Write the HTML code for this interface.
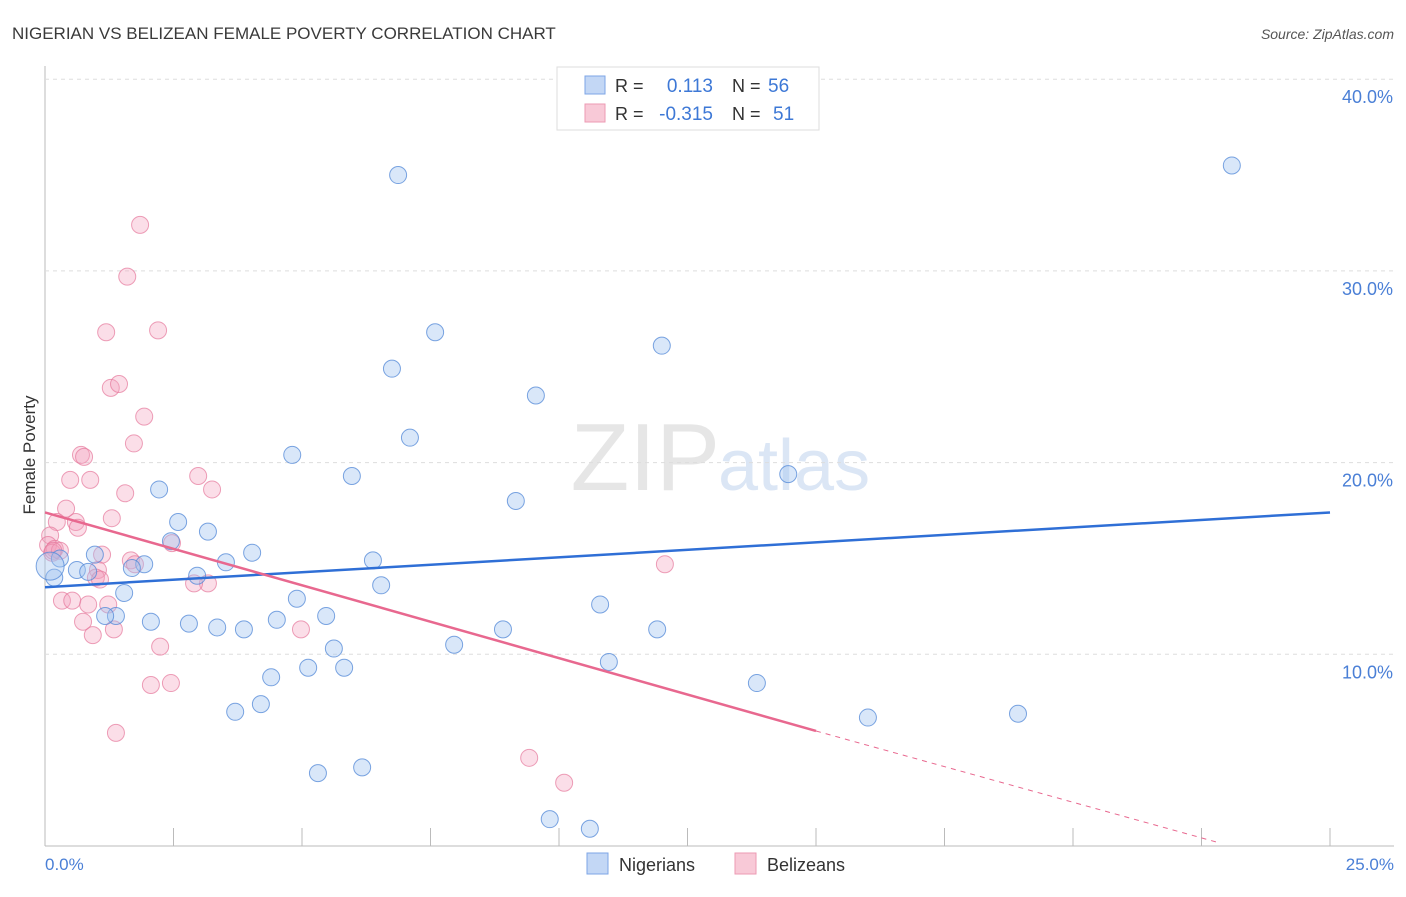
<!DOCTYPE html>
<html><head><meta charset="utf-8"><style>
body{margin:0;background:#fff;font-family:"Liberation Sans",sans-serif}
svg text{font-family:"Liberation Sans",sans-serif}
</style></head><body>
<svg id="c" width="1406" height="892" xmlns="http://www.w3.org/2000/svg">
<text x="12" y="39" font-size="17" fill="#3a3a3a">NIGERIAN VS BELIZEAN FEMALE POVERTY CORRELATION CHART</text>
<text x="1394" y="39" font-size="14" fill="#555" font-style="italic" text-anchor="end">Source: ZipAtlas.com</text>
<text x="720" y="490" font-size="96" fill="#e6e6e6" text-anchor="end" font-family="Liberation Serif">ZIP</text>
<text x="718" y="490" font-size="72" fill="#dbe6f5">atlas</text>
<g id="grid"></g>
<g id="pts"></g>
<g id="lines"></g>
<text x="35" y="455" font-size="17" fill="#333" transform="rotate(-90 35 455)" text-anchor="middle">Female Poverty</text>
<text x="45" y="870" font-size="17" fill="#4a7fd6">0.0%</text>
<text x="1394" y="870" font-size="17" fill="#4a7fd6" text-anchor="end">25.0%</text>
<g>
<rect x="557" y="67" width="262" height="63" fill="#fff" stroke="#ddd"/>
<rect x="585" y="76" width="20" height="18" fill="#c3d7f5" stroke="#7ea5e6"/>
<rect x="585" y="104" width="20" height="18" fill="#f8c9d7" stroke="#ec9ab3"/>
<text x="615" y="92" font-size="18" fill="#333">R = </text><text x="713" y="92" font-size="19" fill="#3d78d6" text-anchor="end">0.113</text>
<text x="732" y="92" font-size="18" fill="#333">N = </text><text x="768" y="92" font-size="19" fill="#3d78d6">56</text>
<text x="615" y="120" font-size="18" fill="#333">R = </text><text x="713" y="120" font-size="19" fill="#3d78d6" text-anchor="end">-0.315</text>
<text x="732" y="120" font-size="18" fill="#333">N = </text><text x="773" y="120" font-size="19" fill="#3d78d6">51</text>
</g>
<g>
<rect x="587" y="853" width="21" height="21" fill="#c3d7f5" stroke="#7ea5e6"/>
<text x="619" y="871" font-size="18" fill="#333">Nigerians</text>
<rect x="735" y="853" width="21" height="21" fill="#f8c9d7" stroke="#ec9ab3"/>
<text x="767" y="871" font-size="18" fill="#333">Belizeans</text>
</g>
</svg>
<script>
const nigX=[6.87,23.09,7.59,12.00,6.75,9.55,7.10,4.81,5.97,2.22,14.46,9.16,2.59,3.17,2.45,4.03,0.97,0.29,3.52,6.38,1.93,1.69,0.62,0.84,0.18,2.96,6.54,1.54,4.90,10.80,1.38,1.17,2.06,2.80,4.51,5.47,3.35,3.87,8.91,11.91,5.62,7.96,10.97,5.12,5.82,4.40,13.85,4.20,3.70,16.01,18.93,5.31,6.17,9.82,10.60,0.1];
const nigY=[35.0,35.5,26.8,26.1,24.9,23.5,21.3,20.4,19.3,18.6,19.4,18.0,16.9,16.4,15.9,15.3,15.2,15.0,14.8,14.9,14.7,14.5,14.4,14.3,14.0,14.1,13.6,13.2,12.9,12.6,12.0,12.0,11.7,11.6,11.8,12.0,11.4,11.3,11.3,11.3,10.3,10.5,9.6,9.3,9.3,8.8,8.5,7.4,7.0,6.7,6.9,3.8,4.1,1.4,0.9,14.6];
const belX=[1.85,1.60,1.19,2.20,1.28,1.44,1.93,1.73,0.70,0.76,0.49,0.88,2.98,3.25,1.56,0.41,0.23,1.30,0.60,0.64,0.1,0.06,0.19,0.14,0.29,1.11,1.67,1.75,2.47,1.03,0.99,1.07,3.17,2.90,12.06,0.33,0.53,0.84,1.23,0.74,1.34,0.93,4.98,2.24,2.45,2.06,1.38,9.42,10.10,0.16];
const belY=[32.4,29.7,26.8,26.9,23.9,24.1,22.4,21.0,20.4,20.3,19.1,19.1,19.3,18.6,18.4,17.6,16.9,17.1,16.9,16.6,16.2,15.7,15.5,15.3,15.4,15.2,14.9,14.7,15.8,14.4,14.0,13.9,13.7,13.7,14.7,12.8,12.8,12.6,12.6,11.7,11.3,11.0,11.3,10.4,8.5,8.4,5.9,4.6,3.3,15.4];
const xTicks=[0,2.5,5,7.5,10,12.5,15,17.5,20,22.5,25];
const yTicks=[10,20,30,40];
const yTickLabels=["10.0%","20.0%","30.0%","40.0%"];
const blueTrend=[[0,13.5],[25,17.4]];
const pinkTrend=[[0,17.4],[15,6.0],[22.8,0.2]];
const X=v=>45+v*51.4, Y=v=>846-v*19.17;
const NS="http://www.w3.org/2000/svg";
function mk(t,a,p){const e=document.createElementNS(NS,t);for(const k in a)e.setAttribute(k,a[k]);p.appendChild(e);return e;}
const g=document.getElementById('grid');
const ax=mk('line',{x1:45,y1:66,x2:45,y2:846,stroke:'#bbb'},g);


const bx=mk('line',{x1:45,y1:846,x2:1394,y2:846,stroke:'#bbb'},g);


xTicks.forEach(t=>{const l=mk('line',{x1:X(t),y1:828,x2:X(t),y2:846,stroke:'#bbb'},g);

});
yTicks.forEach((t,i)=>{const l=mk('line',{x1:45,y1:Y(t),x2:1394,y2:Y(t),stroke:'#ddd','stroke-dasharray':'4,4'},g);


const tx=mk('text',{x:1393,y:Y(t)+24,'font-size':18,fill:'#4a7fd6','text-anchor':'end'},g);tx.textContent=yTickLabels[i];

});
const P=document.getElementById('pts');
belX.forEach((x,i)=>{const c=mk('circle',{cx:X(x),cy:Y(belY[i]),r:8.5,fill:'rgba(244,160,188,0.35)',stroke:'rgba(230,120,155,0.7)','stroke-width':1},P);

});
nigX.forEach((x,i)=>{const c=mk('circle',{cx:X(x),cy:Y(nigY[i]),r:i==55?14:8.5,fill:'rgba(160,195,240,0.4)',stroke:'rgba(80,135,215,0.75)','stroke-width':1},P);

});
const L=document.getElementById('lines');
const b=mk('line',{x1:X(blueTrend[0][0]),y1:Y(blueTrend[0][1]),x2:X(blueTrend[1][0]),y2:Y(blueTrend[1][1]),stroke:'#2f6fd6','stroke-width':2.5},L);


const p1=mk('line',{x1:X(pinkTrend[0][0]),y1:Y(pinkTrend[0][1]),x2:X(pinkTrend[1][0]),y2:Y(pinkTrend[1][1]),stroke:'#e8688f','stroke-width':2.5},L);


const p2=mk('line',{x1:X(pinkTrend[1][0]),y1:Y(pinkTrend[1][1]),x2:X(pinkTrend[2][0]),y2:Y(pinkTrend[2][1]),stroke:'#e8688f','stroke-width':1,'stroke-dasharray':'5,5'},L);


</script>
</body></html>
